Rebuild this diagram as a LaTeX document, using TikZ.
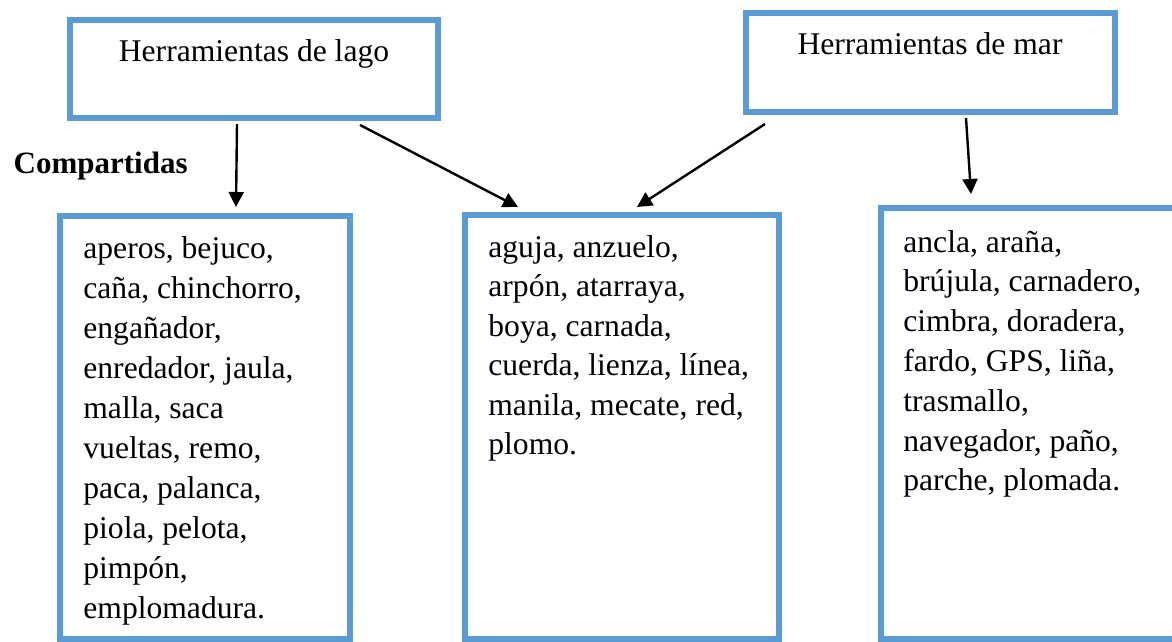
\documentclass[tikz,border=0pt]{standalone}
\usepackage{fontspec}
\setmainfont{Liberation Serif}
\usepackage{xcolor}
\usetikzlibrary{arrows.meta,calc,positioning}
\definecolor{azulcaja}{HTML}{5B9BD5}

\begin{document}
\begin{tikzpicture}[x=0.5pt,y=-0.5pt]
		\tikzstyle{every node}=[font=\fontsize{15.8}{19}\selectfont]
		\tikzstyle{caja}=[draw=azulcaja, line width=3pt, inner sep=0pt]
		\tikzstyle{flecha}=[line width=1.2pt, -{Triangle[length=7.5pt,width=7.5pt]}]
		\tikzstyle{renglon}=[anchor=base west, inner sep=0pt]
		\useasboundingbox (0,0) rectangle (1172,642);
		% cajas de arriba
		\node [caja, minimum width=184pt, minimum height=49pt] (lago) at (254,69) {};
		\node [caja, minimum width=184.5pt, minimum height=49.5pt] (mar) at (930.5,62.5) {};
		\node [anchor=base, inner sep=0pt] (lagotxt) at (254,62) {Herramientas de lago};
		\node [anchor=base, inner sep=0pt] (martxt) at (930,55) {Herramientas de mar};
		\node [font=\fontsize{15.5}{19}\selectfont\bfseries, anchor=base east, inner sep=0pt] (comp) at (188,173) {Compartidas};
		% cajas de abajo
		\node [caja, minimum width=145pt, minimum height=211.5pt] (izq) at (205,427.5) {};
		\node [caja, minimum width=157pt, minimum height=212pt] (med) at (622,427) {};
		\node [caja, minimum width=149.5pt, minimum height=215.5pt] (der) at (1030.5,423.5) {};
		\foreach \t [count=\i from 0] in {{aperos, bejuco,},{caña, chinchorro,},{engañador,},{enredador, jaula,},{malla, saca},{vueltas, remo,},{paca, palanca,},{piola, pelota,},{pimpón,},{emplomadura.}}
			\node [renglon] (izq\i) at (83,{258+40*\i}) {\t};
		\foreach \t [count=\i from 0] in {{aguja, anzuelo,},{arpón, atarraya,},{boya, carnada,},{cuerda, lienza, línea,},{manila, mecate, red,},{plomo.}}
			\node [renglon] (med\i) at (488,{257+39.5*\i}) {\t};
		\foreach \t [count=\i from 0] in {{ancla, araña,},{brújula, carnadero,},{cimbra, doradera,},{fardo, GPS, liña,},{trasmallo,},{navegador, paño,},{parche, plomada.}}
			\node [renglon] (der\i) at (903,{252+39.8*\i}) {\t};
		% flechas
		\draw [flecha] ($(lago.south)+(-17,3)$) -- ($(izq.north)+(31,-6)$);
		\draw [flecha] ($(lago.south)+(106,4)$) -- ($(med.north)+(-104,-5)$);
		\draw [flecha] ($(mar.south)+(-165.5,9)$) -- ($(med.north)+(15,-5)$);
		\draw [flecha] ($(mar.south)+(35.5,3)$) -- ($(der.north)+(-59.5,-11)$);
\end{tikzpicture}
\end{document}
